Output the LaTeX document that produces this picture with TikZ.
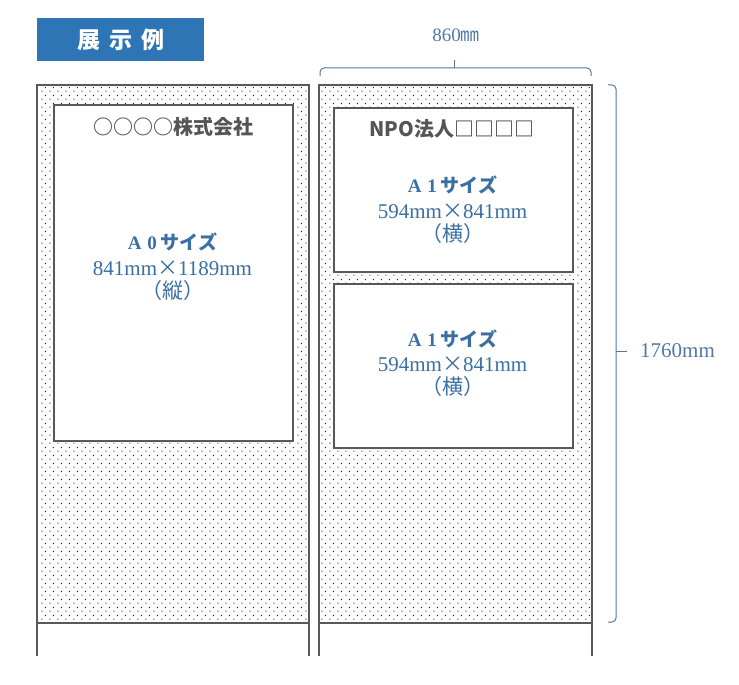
\documentclass[tikz,border=0pt]{standalone}
\usepackage{fontspec}
\setmainfont{Liberation Serif}
\newfontfamily\jp{Noto Sans CJK JP}
\usetikzlibrary{patterns.meta}
\definecolor{panelgray}{HTML}{595959}
\definecolor{titleblue}{HTML}{2E75B6}
\definecolor{textblue}{HTML}{3A6FA3}
\definecolor{dimblue}{HTML}{5279A6}
\definecolor{headgray}{HTML}{555555}
\tikzdeclarepattern{
  name=dotgrid,
  type=uncolored,
  bottom left={(0pt,0pt)},
  top right={(8pt,8pt)},
  tile size={(8pt,8pt)},
  code={
    \fill (1.5pt,1.5pt) rectangle (2.7pt,2.7pt);
    \fill (5.5pt,5.5pt) rectangle (6.7pt,6.7pt);
  }
}
\tikzset{
  panelline/.style={draw=panelgray, line width=2.2pt},
  dotfill/.style={pattern=dotgrid, pattern color=black!85},
  poster/.style={draw=panelgray, line width=2pt, fill=white, anchor=north west, inner sep=0pt},
  headtxt/.style={font=\jp\bfseries\fontsize{20}{20}\selectfont, text=headgray, inner sep=0pt},
  sizetitle/.style={font=\bfseries\fontsize{19}{19}\selectfont, text=textblue, inner sep=0pt},
  sizetxt/.style={font=\fontsize{21}{21}\selectfont, text=textblue, inner sep=0pt},
  dimline/.style={draw=dimblue, line width=1pt, rounded corners=4pt},
  dimtxt/.style={font=\fontsize{19}{19}\selectfont, text=dimblue, inner sep=0pt},
}
\begin{document}
\begin{tikzpicture}[x=1pt,y=-1pt]
\useasboundingbox (0,0) rectangle (739,685);
\fill[white] (0,0) rectangle (739,685);

% title
\node[fill=titleblue, minimum width=167pt, minimum height=43pt, inner sep=0pt, anchor=north west,
      text=white, font=\jp\bfseries\fontsize{23}{23}\selectfont] (title) at (37,18)
      {展\hspace{0.4em}示\hspace{0.4em}例};

% panels dotted fill
\fill[white] (37,85) rectangle (309,623);
\fill[dotfill] (37,85) rectangle (309,623);
\fill[white] (319,85) rectangle (592,623);
\fill[dotfill] (319,85) rectangle (592,623);

% panel outlines
\draw[panelline] (37,656) -- (37,85) -- (309,85) -- (309,656);
\draw[panelline] (37,623) -- (309,623);
\draw[panelline] (319,656) -- (319,85) -- (592,85) -- (592,656);
\draw[panelline] (319,623) -- (592,623);

% posters
\node[poster, minimum width=239pt, minimum height=336pt] (a0) at (53,104) {};
\node[poster, minimum width=239pt, minimum height=164pt] (a1top) at (333,107) {};
\node[poster, minimum width=239pt, minimum height=164pt] (a1bot) at (333,283) {};

% left poster text
\node[headtxt] (lhead) at (173,127) {○○○○株式会社};
\node[sizetitle] (la0) at (172.5,242) {A\hspace{0.3em}0\hspace{0.2em}{\jp サイズ}};
\node[sizetxt] (lsz) at (172.5,268) {841mm{\jp ×}1189mm};
\node[sizetxt] (lori) at (172.5,291) {\jp（縦）};

% right top poster text
\node[headtxt] (rhead) at (452,129) {NPO法人□□□□};
\node[sizetitle] (ra1) at (452.5,185) {A\hspace{0.3em}1\hspace{0.2em}{\jp サイズ}};
\node[sizetxt] (rsz) at (452.5,211) {594mm{\jp ×}841mm};
\node[sizetxt] (rori) at (452.5,234) {\jp（横）};

% right bottom poster text
\node[sizetitle] (rb1) at (452.5,339) {A\hspace{0.3em}1\hspace{0.2em}{\jp サイズ}};
\node[sizetxt] (rbsz) at (452.5,364) {594mm{\jp ×}841mm};
\node[sizetxt] (rbori) at (452.5,387) {\jp（横）};

% width dimension
\coordinate (wl) at (320,76);
\coordinate (wm) at (454,68);
\coordinate (wr) at (591,76);
\coordinate (wt) at (454,60);
\draw[dimline] (wl) |- (wm) -| (wr);
\draw[dimline] (wm) -- (wt);
\node[dimtxt] (wlab) at (456,35) {860{\jp ㎜}};

% height dimension
\coordinate (ht) at (608,85);
\coordinate (hm) at (616,351);
\coordinate (hb) at (608,622);
\coordinate (htick) at (627,351);
\draw[dimline] (ht) -| (hm) |- (hb);
\draw[dimline] (hm) -- (htick);
\node[dimtxt, anchor=west, font=\fontsize{21}{21}\selectfont] (hlab) at (640,351) {1760mm};
\end{tikzpicture}
\end{document}
